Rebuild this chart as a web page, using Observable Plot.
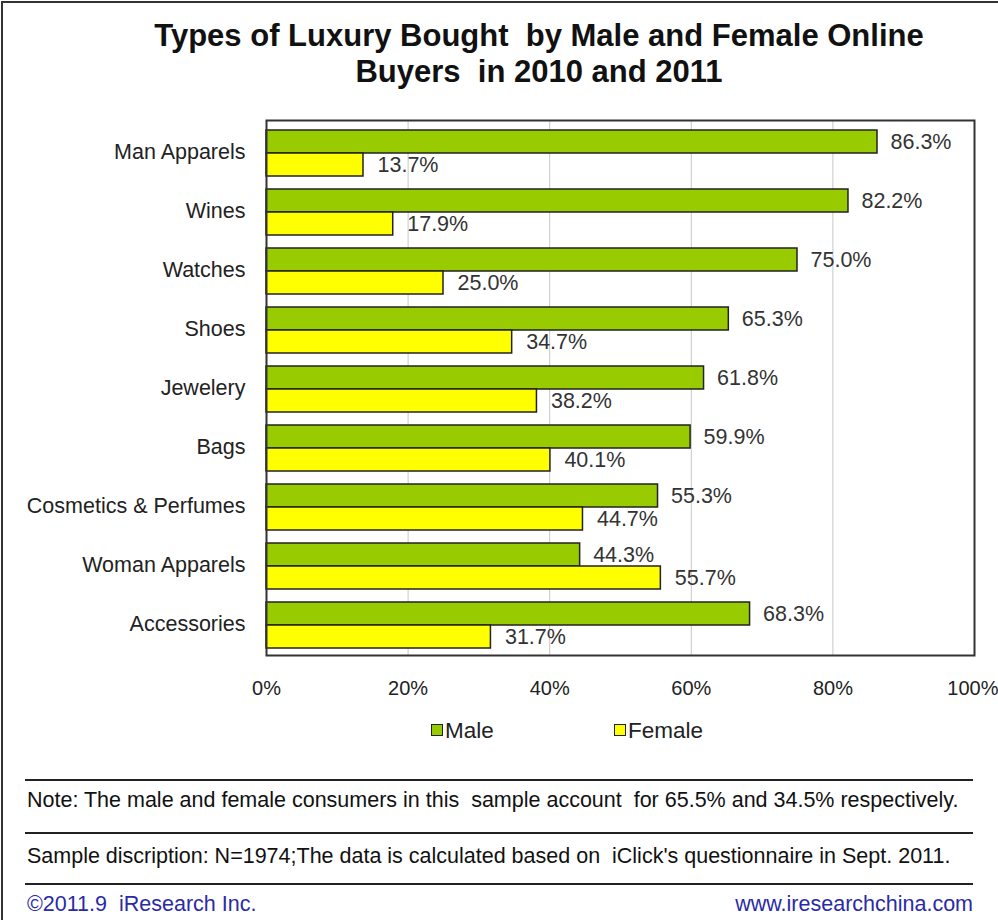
<!DOCTYPE html>
<html>
<head>
<meta charset="utf-8">
<script src="https://cdn.jsdelivr.net/npm/d3@7"></script>
<script src="https://cdn.jsdelivr.net/npm/@observablehq/plot@0.6"></script>
<style>
  html, body { margin: 0; padding: 0; background: #fff; }
  #page { position: relative; width: 998px; height: 920px; overflow: hidden; background: #fff;
          font-family: "Liberation Sans", Arial, sans-serif; color: #222; }
  #border { position: absolute; left: 1px; top: 1px; width: 1000px; height: 1000px;
            border-left: 2px solid #333; border-top: 2px solid #333; }
  #title { position: absolute; left: 89px; width: 900px; top: 18px; text-align: center;
           font-weight: bold; font-size: 31px; line-height: 36px; color: #111; }
  #chart { position: absolute; left: 0; top: 100px; }
  .leg { position: absolute; top: 718px; font-size: 22.5px; color: #222; }
  .sw { display: inline-block; width: 10px; height: 10px; border: 1.5px solid #222; margin-right: 2px; vertical-align: 2px; }
  .rule { position: absolute; left: 25px; width: 948px; height: 0; border-top: 2px solid #222; }
  .note { position: absolute; left: 27px; font-size: 21.5px; color: #111; white-space: nowrap; }
  .foot { position: absolute; top: 892px; font-size: 21.5px; color: #2a2aa8; white-space: nowrap; }
</style>
</head>
<body>
<div id="page">
  <div id="border"></div>
  <div id="title">Types of Luxury Bought &nbsp;by Male and Female Online<br>Buyers &nbsp;in 2010 and 2011</div>
  <div id="chart"></div>
  <div class="leg" style="left:431px"><span class="sw" style="background:#99cc00"></span>Male</div>
  <div class="leg" style="left:614px"><span class="sw" style="background:#ffff00"></span>Female</div>
  <div class="rule" style="top:779px"></div>
  <div class="note" style="top:788px">Note: The male and female consumers in this &nbsp;sample account &nbsp;for 65.5% and 34.5% respectively.</div>
  <div class="rule" style="top:832px"></div>
  <div class="note" style="top:844px">Sample discription: N=1974;The data is calculated based on &nbsp;iClick's questionnaire in Sept. 2011.</div>
  <div class="rule" style="top:883px"></div>
  <div class="foot" style="left:27px">©2011.9 &nbsp;iResearch Inc.</div>
  <div class="foot" style="right:25px">www.iresearchchina.com</div>
</div>
<script>
const categories = ["Man Apparels", "Wines", "Watches", "Shoes", "Jewelery", "Bags", "Cosmetics & Perfumes", "Woman Apparels", "Accessories"];
const maleValues = [86.3, 82.2, 75.0, 65.3, 61.8, 59.9, 55.3, 44.3, 68.3];
const femaleValues = [13.7, 17.9, 25.0, 34.7, 38.2, 40.1, 44.7, 55.7, 31.7];
const seriesNames = ["Male", "Female"];
const xTicks = [0, 20, 40, 60, 80, 100];

const maleData = categories.map((c, i) => ({category: c, series: seriesNames[0], value: maleValues[i]}));
const femaleData = categories.map((c, i) => ({category: c, series: seriesNames[1], value: femaleValues[i]}));
const fmt = d => d.toFixed(1) + "%";

const chart = Plot.plot({
  width: 998,
  height: 610,
  marginLeft: 266,
  marginRight: 24,
  marginTop: 20,
  marginBottom: 55,
  style: {fontFamily: "'Liberation Sans', Arial, sans-serif", fontSize: "21px", color: "#222", background: "transparent"},
  x: {domain: [0, 100], label: null},
  y: {domain: categories, padding: 0, label: null},
  marks: [
    Plot.gridX(xTicks.slice(1, -1), {stroke: "#c8c8c8", strokeOpacity: 1, strokeWidth: 1}),
    Plot.barX(maleData, {y: "category", x: "value", fill: "#99cc00", stroke: "#222", strokeWidth: 1.5, insetTop: 8, insetBottom: 28}),
    Plot.barX(femaleData, {y: "category", x: "value", fill: "#ffff00", stroke: "#222", strokeWidth: 1.5, insetTop: 31, insetBottom: 5}),
    Plot.frame({stroke: "#333", strokeWidth: 2}),
    Plot.text(maleData, {y: "category", x: "value", text: d => fmt(d.value), dx: 13, dy: -10, textAnchor: "start", fontSize: 21.5, fill: "#333"}),
    Plot.text(femaleData, {y: "category", x: "value", text: d => fmt(d.value), dx: 14, dy: 13, textAnchor: "start", fontSize: 21.5, fill: "#333"}),
    Plot.axisX({ticks: xTicks.slice(0, -1), tickFormat: d => d + "%", tickSize: 0, tickPadding: 25, fontSize: 20, label: null}),
    Plot.axisX({ticks: xTicks.slice(-1), tickFormat: d => d + "%", tickSize: 0, tickPadding: 25, fontSize: 20, label: null, textAnchor: "end", dx: 24}),
    Plot.axisY({tickSize: 0, tickPadding: 21, fontSize: 21.5, label: null})
  ]
});
document.getElementById("chart").appendChild(chart);
</script>
</body>
</html>
